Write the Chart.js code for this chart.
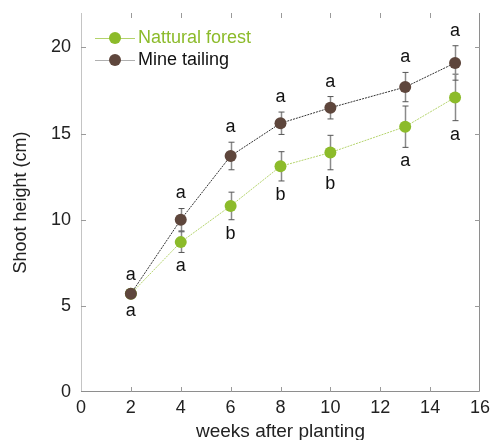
<!DOCTYPE html>
<html lang="en">
<head>
<meta charset="UTF-8">
<title>Shoot height</title>
<script src="https://cdn.jsdelivr.net/npm/chart.js"></script>
<style>
  html, body { margin: 0; padding: 0; background: #ffffff; }
  #wrap { width: 491px; height: 440px; }
</style>
</head>
<body>
<div id="wrap"><canvas id="shootChart" width="491" height="440"></canvas></div>
<script>
// data
const weeks = [2, 4, 6, 8, 10, 13, 15];
const mineHeight = [5.7, 10.0, 13.7, 15.6, 16.5, 17.7, 19.1];
const mineErr = [0.2, 0.65, 0.8, 0.65, 0.65, 0.85, 1.0];
const mineLetters = ['a', 'a', 'a', 'a', 'a', 'a', 'a'];
const forestHeight = [5.7, 8.7, 10.8, 13.1, 13.9, 15.4, 17.1];
const forestErr = [0.2, 0.6, 0.8, 0.85, 1.0, 1.2, 1.35];
const forestLetters = ['a', 'a', 'b', 'b', 'b', 'a', 'a'];
const xTicks = [0, 2, 4, 6, 8, 10, 12, 14, 16];
const yTicks = [0, 5, 10, 15, 20];

const FONT = "'Liberation Sans', Arial, sans-serif";
const GREEN = '#8cbb2a';
const BROWN = '#5e463c';

const toPoints = (vals) => weeks.map((w, i) => ({ x: w, y: vals[i] }));

// axis lines (no top line), inward ticks, error bars, letters and the legend
const extrasPlugin = {
    id: 'extras',
    beforeDatasetsDraw(chart) {
        const { ctx, chartArea: a, scales: { x, y } } = chart;
        ctx.save();
        ctx.lineWidth = 1;
        ctx.strokeStyle = '#c4c4c4';
        ctx.beginPath();
        ctx.moveTo(a.left + 0.5, a.top); ctx.lineTo(a.left + 0.5, a.bottom);
        ctx.stroke();
        ctx.strokeStyle = '#8e8e8e';
        ctx.beginPath();
        ctx.moveTo(a.left, a.bottom - 0.5); ctx.lineTo(a.right - 0.5, a.bottom - 0.5);
        ctx.lineTo(a.right - 0.5, a.top);
        ctx.stroke();

        ctx.strokeStyle = '#9a9a9a';
        ctx.beginPath();
        xTicks.slice(1, -1).forEach(v => {
            const px = Math.round(x.getPixelForValue(v)) + 0.5;
            ctx.moveTo(px, a.bottom); ctx.lineTo(px, a.bottom - 5);
            ctx.moveTo(px, a.top); ctx.lineTo(px, a.top + 5);
        });
        yTicks.slice(1).forEach(v => {
            const py = Math.round(y.getPixelForValue(v)) + 0.5;
            ctx.moveTo(a.left, py); ctx.lineTo(a.left + 5, py);
            ctx.moveTo(a.right, py); ctx.lineTo(a.right - 5, py);
        });
        ctx.stroke();

        // error bars
        const bars = (vals, errs) => {
            weeks.forEach((w, i) => {
                const px = Math.round(x.getPixelForValue(w)) + 0.5;
                const top = y.getPixelForValue(vals[i] + errs[i]);
                const bot = y.getPixelForValue(vals[i] - errs[i]);
                ctx.strokeStyle = '#8a8a8a';
                ctx.lineWidth = 1.5;
                ctx.beginPath();
                ctx.moveTo(px, top); ctx.lineTo(px, bot);
                ctx.stroke();
                ctx.strokeStyle = '#555555';
                ctx.lineWidth = 1;
                ctx.beginPath();
                ctx.moveTo(px - 3, top); ctx.lineTo(px + 3, top);
                ctx.moveTo(px - 3, bot); ctx.lineTo(px + 3, bot);
                ctx.stroke();
            });
        };
        bars(forestHeight, forestErr);
        bars(mineHeight, mineErr);
        ctx.restore();
    },
    afterDatasetsDraw(chart) {
        const { ctx, scales: { x, y } } = chart;
        ctx.save();
        ctx.font = '18px ' + FONT;
        ctx.fillStyle = '#111111';
        ctx.textAlign = 'center';
        ctx.textBaseline = 'middle';
        weeks.forEach((w, i) => {
            const px = x.getPixelForValue(w);
            ctx.fillText(mineLetters[i], px, y.getPixelForValue(mineHeight[i] + mineErr[i]) - 15);
            ctx.fillText(forestLetters[i], px, y.getPixelForValue(forestHeight[i] - forestErr[i]) + 14);
        });

        // legend
        const items = [
            { label: 'Nattural forest', color: GREEN, line: '#b3d36a', text: GREEN, y: 38 },
            { label: 'Mine tailing', color: BROWN, line: '#b0b0b0', text: '#111111', y: 60 }
        ];
        items.forEach(it => {
            ctx.strokeStyle = it.line;
            ctx.lineWidth = 1;
            ctx.beginPath();
            ctx.moveTo(95, it.y + 0.5); ctx.lineTo(135, it.y + 0.5);
            ctx.stroke();
            ctx.fillStyle = it.color;
            ctx.beginPath();
            ctx.arc(115, it.y, 6, 0, Math.PI * 2);
            ctx.fill();
            ctx.fillStyle = it.text;
            ctx.textAlign = 'left';
            ctx.fillText(it.label, 138, it.y);
        });
        ctx.restore();
    }
};

new Chart(document.getElementById('shootChart'), {
    type: 'scatter',
    data: {
        datasets: [
            {
                label: 'Mine tailing',
                data: toPoints(mineHeight),
                showLine: true,
                borderColor: '#333333',
                borderWidth: 1,
                borderDash: [2, 1],
                pointBackgroundColor: BROWN,
                pointBorderColor: BROWN,
                pointRadius: 6,
                pointBorderWidth: 0
            },
            {
                label: 'Nattural forest',
                data: toPoints(forestHeight),
                showLine: true,
                borderColor: '#b5d46e',
                borderWidth: 1,
                borderDash: [2, 1],
                pointBackgroundColor: GREEN,
                pointBorderColor: GREEN,
                pointRadius: 6,
                pointBorderWidth: 0
            }
        ]
    },
    options: {
        responsive: false,
        animation: false,
        layout: { padding: { top: 13, right: 11, left: 0, bottom: 0 } },
        plugins: { legend: { display: false }, tooltip: { enabled: false } },
        scales: {
            x: {
                type: 'linear',
                min: 0, max: 16,
                grid: { display: false, drawTicks: false },
                border: { display: false },
                afterBuildTicks: s => { s.ticks = xTicks.map(v => ({ value: v })); },
                afterFit: s => { s.height = 48; s.paddingRight = 0; s.paddingLeft = 0; },
                ticks: { padding: 5, color: '#222222', font: { family: FONT, size: 18 } },
                title: {
                    display: true, text: 'weeks after planting', color: '#222222',
                    padding: 0, font: { family: FONT, size: 19, lineHeight: 0.85 }
                }
            },
            y: {
                type: 'linear',
                min: 0, max: 22,
                grid: { display: false, drawTicks: false },
                border: { display: false },
                afterBuildTicks: s => { s.ticks = yTicks.map(v => ({ value: v })); },
                afterFit: s => { s.width = 81; s.paddingTop = 0; s.paddingBottom = 0; },
                ticks: { padding: 10, color: '#222222', font: { family: FONT, size: 18 } },
                title: {
                    display: true, text: 'Shoot height (cm)', color: '#222222',
                    padding: { top: 10, bottom: 0 }, font: { family: FONT, size: 18 }
                }
            }
        }
    },
    plugins: [extrasPlugin]
});
</script>
</body>
</html>
